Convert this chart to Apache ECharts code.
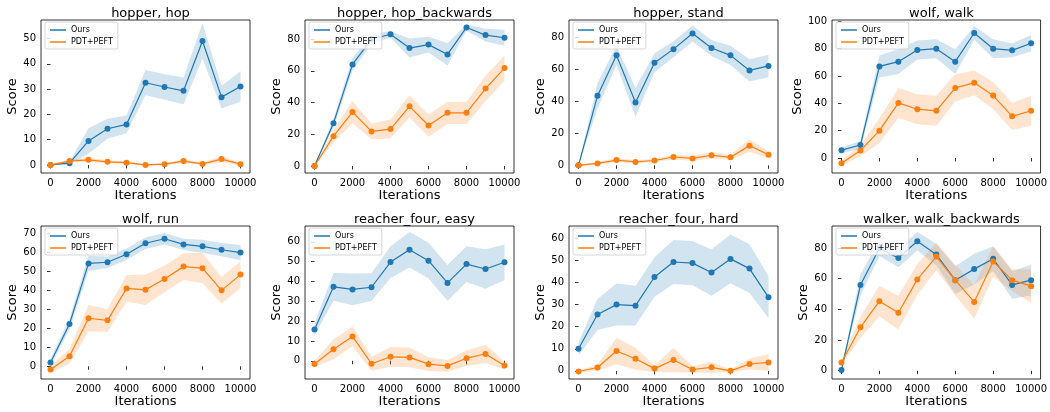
<!DOCTYPE html>
<html>
<head>
<meta charset="utf-8">
<script src="https://cdn.jsdelivr.net/npm/echarts@6.0.0/dist/echarts.min.js"></script>
<style>
  html, body { margin: 0; padding: 0; background: #fff; }
  #chart { width: 1050px; height: 412px; }
</style>
</head>
<body>
<div id="chart"></div>
<script>
// iterations on the x axis
const steps = [0, 1000, 2000, 3000, 4000, 5000, 6000, 7000, 8000, 9000, 10000];
const xTicks = [0, 2000, 4000, 6000, 8000, 10000];

const titles = ['hopper, hop', 'hopper, hop_backwards', 'hopper, stand', 'wolf, walk',
  'wolf, run', 'reacher_four, easy', 'reacher_four, hard', 'walker, walk_backwards'];

// Ours: mean score and band half-width per panel
const oursMean = [
  [0, 0.7, 9.5, 14.3, 16, 32.5, 30.8, 29.3, 49, 26.8, 31],
  [0, 27, 64, 80, 83, 74.3, 76.5, 70.3, 87.3, 82.5, 80.8],
  [0, 43.4, 68.7, 39.3, 64.1, 72.6, 82.4, 73.3, 68.7, 59.3, 62.1],
  [5.7, 9.5, 67, 70.5, 79, 80, 70.5, 91.5, 80, 78.8, 84],
  [2, 22.3, 54.2, 54.8, 59, 64.8, 67.2, 64.2, 63.2, 61.4, 59.9],
  [15.8, 37.3, 36, 37.1, 49.8, 56, 50.5, 39.3, 48.8, 46.3, 49.7],
  [10, 25.5, 30, 29.5, 42.5, 49.3, 48.8, 44.5, 50.7, 46.3, 33.3],
  [0.5, 55.8, 79.8, 73.5, 84.4, 75.7, 59, 66.2, 72.9, 55.9, 59]
];
const oursStd = [
  [0, 0.5, 5, 4, 3.5, 5, 5, 5.3, 7, 4.5, 6],
  [0, 3, 4, 3, 2, 6, 5, 7, 2, 4, 5],
  [0, 8, 6, 9, 6, 5, 5, 5, 6, 7, 7],
  [2, 3, 8, 9, 7, 7, 9, 5, 7, 5, 6],
  [2, 3, 4, 3, 3, 3, 3, 3, 3.5, 3.5, 4],
  [3, 7, 8, 7, 8, 9, 9, 9, 9, 10, 9],
  [3, 7, 9.5, 9, 9, 10, 10, 10.5, 11, 11, 9.5],
  [0.5, 7, 5, 6, 6, 7, 9, 10, 8, 9, 10]
];

// PDT+PEFT: mean score and band half-width per panel
const pdtMean = [
  [0, 1.5, 2, 1.2, 0.9, 0, 0.3, 1.5, 0.4, 2.3, 0.3],
  [0, 18.8, 34, 21.8, 23.3, 37.6, 25.5, 33.5, 33.5, 48.8, 61.7],
  [0, 1.2, 3.3, 2.1, 3, 5.2, 4.3, 6.3, 5, 12.3, 6.6],
  [-3.9, 5.4, 20, 40.3, 35.7, 34.5, 51.3, 55, 45.7, 30.5, 34.6],
  [-1.7, 5.3, 25.3, 24.2, 41, 40.3, 46, 52.5, 51.7, 40, 48.3],
  [-1.6, 5.8, 12.3, -1.5, 2, 1.7, -1.7, -2.6, 1.3, 3.4, -2.4],
  [-0.3, 1.5, 9, 5.5, 1, 4.9, 0.6, 1.6, 0, 3.1, 3.8],
  [5.4, 28.3, 45.3, 37.8, 59.5, 74.4, 59, 44.8, 71.2, 59, 55.1]
];
const pdtStd = [
  [0.3, 0.5, 0.8, 0.6, 0.5, 0.3, 0.5, 0.8, 0.5, 1.2, 0.5],
  [0, 4, 7, 5, 6, 7, 7, 7, 7, 8, 8],
  [0.5, 0.8, 1.2, 1, 1, 1.5, 1.5, 2, 1.5, 4, 2],
  [2, 4, 9, 11, 11, 11, 10, 9, 10, 10, 11],
  [2, 4, 7, 6, 7, 8, 7, 7, 8, 7, 7],
  [1.5, 5, 5, 3.5, 5, 5, 3.5, 3, 4, 4.5, 2],
  [0.5, 1.5, 6, 5, 1.5, 5.5, 1.5, 2.5, 0.5, 2.5, 3.8],
  [1.5, 7, 10, 11, 10, 9, 10, 11, 10, 7, 11]
];

// y axis ranges and tick steps
const yMin = [-3.2, -4.4, -4.8, -11, -6.7, -9.2, -3.7, -5.4];
const yMax = [57.3, 92, 90.8, 101, 73.9, 68, 65.6, 94.3];
const yStep = [10, 20, 20, 20, 10, 10, 10, 20];
const yTop = [50, 80, 80, 100, 70, 60, 60, 80];

const BLUE = '#1f77b4';
const ORANGE = '#ff7f0e';
const FONT = 'DejaVu Sans';

// panel boxes (px)
const colLeft = [41, 305, 569, 832];
const rowTop = [20, 226];
const boxW = 209, boxH = 153;

const chart = echarts.init(document.getElementById('chart'));

function bandRender(mean, std, color) {
  return function (params, api) {
    if (params.dataIndex !== 0) return null;
    const pts = [];
    for (let i = 0; i < steps.length; i++) pts.push(api.coord([steps[i], mean[i] + std[i]]));
    for (let i = steps.length - 1; i >= 0; i--) pts.push(api.coord([steps[i], mean[i] - std[i]]));
    return { type: 'polygon', shape: { points: pts }, style: { fill: color, opacity: 0.2 } };
  };
}

const grids = [], xAxes = [], yAxes = [], series = [], titleList = [], legends = [];

for (let p = 0; p < 8; p++) {
  const left = colLeft[p % 4];
  const top = rowTop[Math.floor(p / 4)];
  grids.push({ left: left, top: top, width: boxW, height: boxH, show: true,
    borderColor: '#000', borderWidth: 0.8, backgroundColor: 'transparent' });

  xAxes.push({
    gridIndex: p, type: 'value', min: -500, max: 10500,
    name: 'Iterations', nameLocation: 'middle', nameGap: 16,
    nameTextStyle: { fontSize: 13, color: '#000', fontFamily: FONT },
    axisLine: { show: false }, splitLine: { show: false },
    axisTick: { show: true, inside: false, length: 3.5, customValues: xTicks, lineStyle: { color: '#000', width: 0.8 } },
    axisLabel: { fontSize: 10, color: '#000', margin: 5, fontFamily: FONT, customValues: xTicks,
      formatter: (v) => String(v) }
  });

  const yt = [];
  for (let v = 0; v <= yTop[p]; v += yStep[p]) yt.push(v);
  yAxes.push({
    gridIndex: p, type: 'value', min: yMin[p], max: yMax[p],
    name: 'Score', nameLocation: 'middle', nameGap: 21,
    nameTextStyle: { fontSize: 13, color: '#000', fontFamily: FONT },
    axisLine: { show: false }, splitLine: { show: false },
    axisTick: { show: true, inside: false, length: 3.5, customValues: yt, lineStyle: { color: '#000', width: 0.8 } },
    axisLabel: { fontSize: 10, color: '#000', margin: 5, fontFamily: FONT, customValues: yt,
      formatter: (v) => String(v) }
  });

  titleList.push({
    text: titles[p], left: left + boxW / 2, top: top - 18, textAlign: 'center',
    textStyle: { fontSize: 13, fontWeight: 'normal', color: '#000', fontFamily: FONT }
  });

  legends.push({
    data: ['Ours', 'PDT+PEFT'], orient: 'vertical', left: left + 4, top: top + 2,
    icon: 'rect', itemWidth: 16, itemHeight: 1.5, itemGap: 4,
    padding: [4, 5, 3, 5], borderColor: '#ccc', borderWidth: 0.8, borderRadius: 2,
    backgroundColor: 'rgba(255,255,255,0.8)', selectedMode: false,
    textStyle: { fontSize: 8, color: '#000', fontFamily: FONT, lineHeight: 8 }
  });

  const bandData = steps.map((s) => [s, 0]);
  series.push({
    type: 'custom', name: 'ours band ' + p, xAxisIndex: p, yAxisIndex: p, silent: true,
    renderItem: bandRender(oursMean[p], oursStd[p], BLUE), data: bandData, z: 1
  });
  series.push({
    type: 'custom', name: 'pdt band ' + p, xAxisIndex: p, yAxisIndex: p, silent: true,
    renderItem: bandRender(pdtMean[p], pdtStd[p], ORANGE), data: bandData, z: 1
  });
  series.push({
    type: 'line', name: 'Ours', xAxisIndex: p, yAxisIndex: p, color: BLUE,
    symbol: 'circle', symbolSize: 6, lineStyle: { width: 1.2 }, z: 3,
    data: steps.map((s, i) => [s, oursMean[p][i]])
  });
  series.push({
    type: 'line', name: 'PDT+PEFT', xAxisIndex: p, yAxisIndex: p, color: ORANGE,
    symbol: 'circle', symbolSize: 6, lineStyle: { width: 1.2 }, z: 4,
    data: steps.map((s, i) => [s, pdtMean[p][i]])
  });
}

chart.setOption({
  animation: false,
  textStyle: { fontFamily: FONT },
  title: titleList,
  legend: legends,
  grid: grids,
  xAxis: xAxes,
  yAxis: yAxes,
  series: series
});
</script>
</body>
</html>
